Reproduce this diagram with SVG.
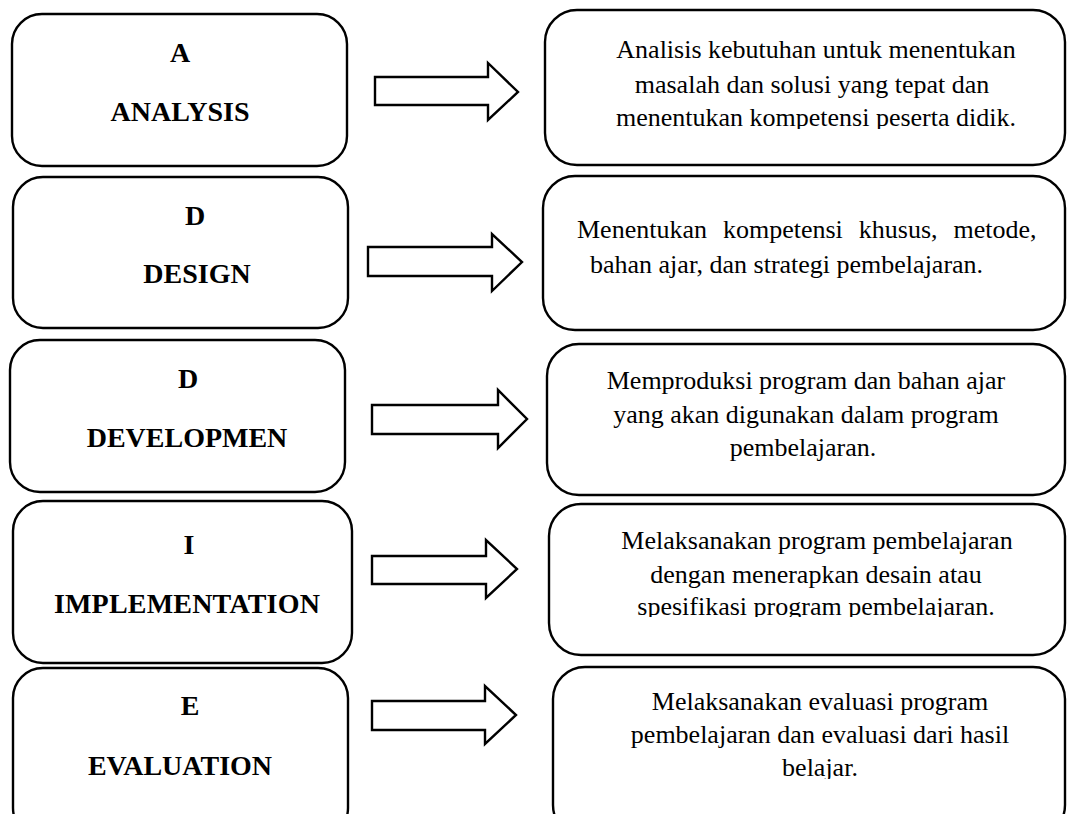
<svg xmlns="http://www.w3.org/2000/svg" width="1070" height="814" viewBox="0 0 1070 814">
<style>
.box{fill:#fff;stroke:#000;stroke-width:2.4}
.arrow{fill:#fff;stroke:#000;stroke-width:2.4;stroke-linejoin:miter}
.title{font-family:"Liberation Serif","Times New Roman",serif;font-weight:bold;font-size:28px;fill:#000;text-anchor:middle}
.body{font-family:"Liberation Serif","Times New Roman",serif;font-size:26px;fill:#000;text-anchor:middle}
</style>
<defs>
<clipPath id="c1"><rect x="545" y="10" width="520" height="119"/></clipPath>
<clipPath id="c4"><rect x="549" y="504" width="516" height="113"/></clipPath>
<clipPath id="c5"><rect x="553" y="667" width="512" height="112"/></clipPath>
</defs>
<rect width="1070" height="814" fill="#fff"/>

<g id="node-a">
<rect class="box" x="12" y="14" width="335" height="152" rx="30" ry="30"/>
<text class="title" x="180" y="62">A</text>
<text class="title" x="180" y="121">ANALYSIS</text>
</g>
<g id="node-d-design">
<rect class="box" x="13" y="177" width="335" height="151" rx="30" ry="30"/>
<text class="title" x="195" y="225">D</text>
<text class="title" x="197" y="283">DESIGN</text>
</g>
<g id="node-d-develop">
<rect class="box" x="10" y="340" width="335" height="152" rx="30" ry="30"/>
<text class="title" x="188" y="388">D</text>
<text class="title" x="187" y="447">DEVELOPMEN</text>
</g>
<g id="node-i">
<rect class="box" x="13" y="501" width="339" height="162" rx="30" ry="30"/>
<text class="title" x="189" y="554">I</text>
<text class="title" x="187" y="613" letter-spacing="0.2">IMPLEMENTATION</text>
</g>
<g id="node-e">
<rect class="box" x="13" y="668" width="335" height="170" rx="30" ry="30"/>
<text class="title" x="190" y="715">E</text>
<text class="title" x="180" y="775">EVALUATION</text>
</g>

<g id="desc-a">
<rect class="box" x="545" y="10" width="520" height="155" rx="32" ry="32"/>
<g clip-path="url(#c1)">
<text class="body" x="816" y="58">Analisis kebutuhan untuk menentukan</text>
<text class="body" x="812" y="92.5">masalah dan solusi yang tepat dan</text>
<text class="body" x="816" y="126">menentukan kompetensi peserta didik.</text>
</g>
</g>
<g id="desc-d-design">
<rect class="box" x="543" y="176" width="522" height="154" rx="32" ry="32"/>
<text class="body" x="577" y="238" style="text-anchor:start" word-spacing="9.5">Menentukan kompetensi khusus, metode,</text>
<text class="body" x="590" y="273" style="text-anchor:start">bahan ajar, dan strategi pembelajaran.</text>
</g>
<g id="desc-d-develop">
<rect class="box" x="547" y="344" width="518" height="151" rx="32" ry="32"/>
<text class="body" x="806" y="389">Memproduksi program dan bahan ajar</text>
<text class="body" x="806" y="423">yang akan digunakan dalam program</text>
<text class="body" x="803" y="456">pembelajaran.</text>
</g>
<g id="desc-i">
<rect class="box" x="549" y="504" width="516" height="151" rx="32" ry="32"/>
<g clip-path="url(#c4)">
<text class="body" x="817" y="549">Melaksanakan program pembelajaran</text>
<text class="body" x="816" y="583">dengan menerapkan desain atau</text>
<text class="body" x="816" y="615">spesifikasi program pembelajaran.</text>
</g>
</g>
<g id="desc-e">
<rect class="box" x="553" y="667" width="512" height="170" rx="32" ry="32"/>
<g clip-path="url(#c5)">
<text class="body" x="820" y="710">Melaksanakan evaluasi program</text>
<text class="body" x="820" y="743">pembelajaran dan evaluasi dari hasil</text>
<text class="body" x="820" y="776">belajar.</text>
</g>
</g>

<g id="connectors">
<polygon class="arrow" points="375,77 488,77 488,63 518,92 488,120 488,105 375,105"/>
<polygon class="arrow" points="368,247 492,247 492,234 522,262 492,291 492,276 368,276"/>
<polygon class="arrow" points="372,405 498,405 498,390 527,419 498,448 498,434 372,434"/>
<polygon class="arrow" points="372,556 486,556 486,540 517,569 486,598 486,584 372,584"/>
<polygon class="arrow" points="372,701 485,701 485,686 516,715 485,744 485,730 372,730"/>
</g>
</svg>
